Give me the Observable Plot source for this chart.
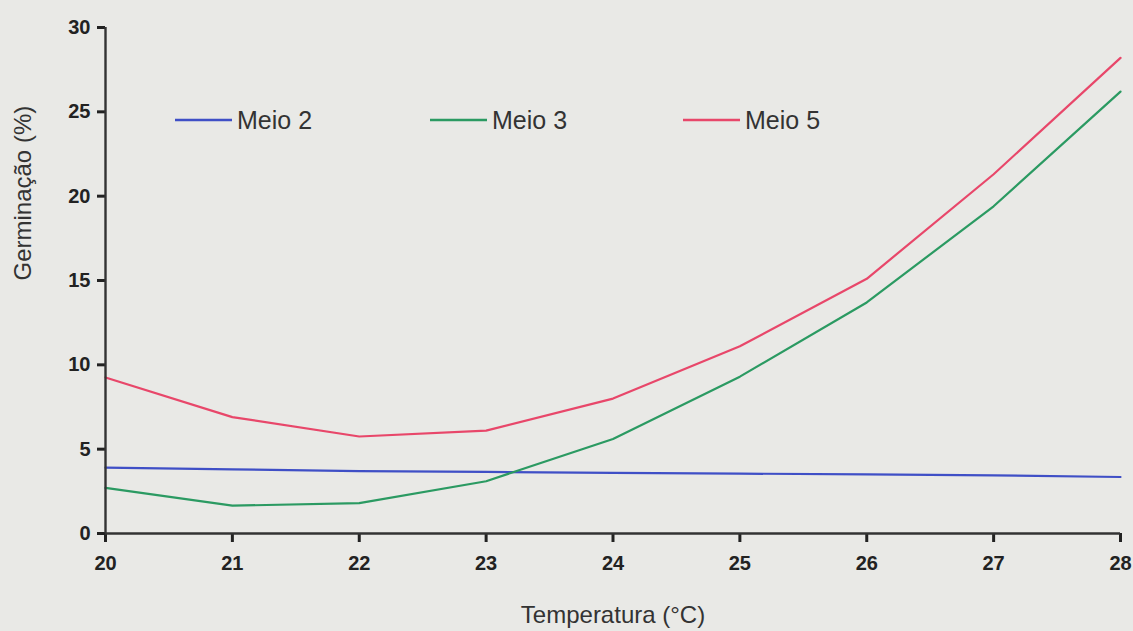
<!DOCTYPE html>
<html>
<head>
<meta charset="utf-8">
<script src="https://cdn.jsdelivr.net/npm/d3@7"></script>
<script src="https://cdn.jsdelivr.net/npm/@observablehq/plot@0.6"></script>
<style>
  html, body { margin: 0; padding: 0; background: #e9e9e6; }
  #chart { width: 1133px; height: 631px; }
  svg { display: block; }
</style>
</head>
<body>
<div id="chart"></div>
<script>
const temperatura = [20, 21, 22, 23, 24, 25, 26, 27, 28];
const meio2 = [3.9, 3.8, 3.7, 3.65, 3.6, 3.55, 3.5, 3.45, 3.35];
const meio3 = [2.7, 1.65, 1.8, 3.1, 5.6, 9.3, 13.7, 19.4, 26.2];
const meio5 = [9.25, 6.9, 5.75, 6.1, 8.0, 11.1, 15.1, 21.3, 28.2];
const seriesNames = ["Meio 2", "Meio 3", "Meio 5"];
const seriesColors = ["#3f4fc6", "#2b9a62", "#e8476a"];
const xTicks = [20, 21, 22, 23, 24, 25, 26, 27, 28];
const yTicks = [0, 5, 10, 15, 20, 25, 30];
const xLabel = "Temperatura (°C)";
const yLabel = "Germinação (%)";

const seriesValues = [meio2, meio3, meio5];
const rows = [];
seriesNames.forEach((name, s) => {
  temperatura.forEach((t, i) => rows.push({serie: name, t, v: seriesValues[s][i]}));
});

const font = "'Liberation Sans', Arial, sans-serif";
const ink = "#333";
const W = 1133, H = 631, mL = 105, mR = 13, mT = 27, mB = 98;

const plot = Plot.plot({
  width: W,
  height: H,
  marginLeft: mL,
  marginRight: mR,
  marginTop: mT,
  marginBottom: mB,
  style: {background: "#e9e9e6", fontFamily: font, color: ink, overflow: "visible"},
  x: {domain: [20, 28], ticks: xTicks, label: null},
  y: {domain: [0, 30], ticks: yTicks, label: null},
  color: {domain: seriesNames, range: seriesColors},
  marks: [
    Plot.axisX({ticks: xTicks, tickSize: 9, tickPadding: 13, tickWidth: 3, fontSize: 20, fontWeight: "bold", stroke: "#222", strokeWidth: 3, strokeOpacity: 1, color: "#222", label: null}),
    Plot.axisY({ticks: yTicks, tickSize: 8, tickPadding: 7, fontSize: 20, fontWeight: "bold", stroke: "#222", strokeWidth: 3, strokeOpacity: 1, color: "#222", label: null}),
    Plot.line(rows, {x: "t", y: "v", z: "serie", stroke: "serie", strokeWidth: 2.2}),
    Plot.ruleX([20], {stroke: ink, strokeWidth: 2.4}),
    Plot.ruleY([0], {stroke: ink, strokeWidth: 2.4}),
    Plot.text([xLabel], {frameAnchor: "bottom", dy: 82, lineAnchor: "middle", fontSize: 24, fill: ink}),
    Plot.text([yLabel], {frameAnchor: "left", dx: -82, rotate: -90, lineAnchor: "middle", fontSize: 24, fill: ink})
  ]
});

document.getElementById("chart").appendChild(plot);

// Legend
const svg = d3.select(plot);
const leg = svg.append("g").attr("font-family", font).attr("font-size", 25)
  .attr("fill", ink).attr("text-anchor", "start");
const legStart = [175, 430, 683];
seriesNames.forEach((name, i) => {
  const lx = legStart[i];
  leg.append("line").attr("x1", lx).attr("x2", lx + 57).attr("y1", 120).attr("y2", 120)
    .attr("stroke", seriesColors[i]).attr("stroke-width", 2.5);
  leg.append("text").attr("x", lx + 62).attr("y", 120).attr("dy", "0.36em").text(name);
});
</script>
</body>
</html>
